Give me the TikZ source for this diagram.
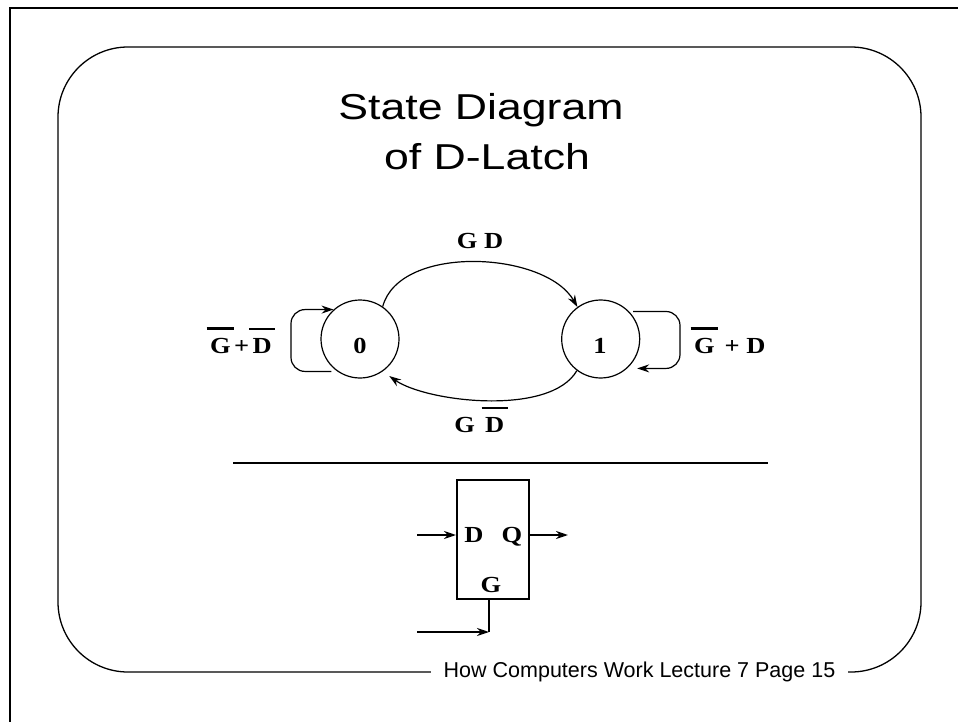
\documentclass[tikz,border=0pt]{standalone}
\usepackage{fontspec}
\usepackage{graphicx}
\setmainfont{Liberation Sans}
\newfontfamily\serifb{Liberation Serif}
\usetikzlibrary{arrows.meta,calc}
\newcommand{\obar}[1]{\vbox{\hrule height 2.4pt\kern 8pt\hbox{\kern3pt#1\kern3pt}}}
\newcommand{\lbl}[1]{\scalebox{1.15}[1]{\fontsize{23}{27}\selectfont\serifb\bfseries #1}}
\begin{document}
\begin{tikzpicture}[x=1pt,y=1pt,
  st/.style={draw,circle,minimum size=78pt,inner sep=0pt,line width=1.2pt},
  thinln/.style={line width=1.2pt},
  thickln/.style={line width=2pt},
  arr/.style={-{Stealth[length=12pt,width=8pt,inset=4pt]}},
  txt/.style={inner sep=0pt,anchor=base}]
\useasboundingbox (0,0) rectangle (958,-722);
% outer frame
\draw[thickln] (10,-722) -- (10,-8) -- (958,-8);
% rounded slide frame
\draw[line width=1.3pt,rounded corners=70pt] (58,-47) rectangle (921,-672);
\node[txt,fill=white,inner xsep=13pt,inner ysep=3pt] (foot) at (639.5,-677)
  {\fontsize{21.5}{25}\selectfont How Computers Work Lecture 7 Page 15};
% title
\node[txt] (t1) at (481,-120) {\scalebox{1.24}[1]{\fontsize{36}{40}\selectfont State Diagram}};
\node[txt] (t2) at (487,-170) {\scalebox{1.24}[1]{\fontsize{36}{40}\selectfont of D-Latch}};
% states
\node[st] (s0) at (360,-339) {};
\node[st] (s1) at (600.7,-339) {};
\node[txt] (n0) at (360,-353) {\lbl{0}};
\node[txt] (n1) at (600,-353) {\lbl{1}};
% transitions
\draw[thinln,arr] (s0.55) to[out=75,in=120,looseness=0.85] (s1.126);
\draw[thinln,arr,shorten >=8pt] (s1.233) to[out=240,in=-35,looseness=0.7] (s0.305);
\coordinate (lp0) at (291,-340);
\coordinate (lp1) at (680,-340);
\draw[thinln,arr,rounded corners=14pt,shorten <=6pt] (s0.235) -| (lp0) |- (s0.132);
\draw[thinln,arr,rounded corners=14pt,shorten <=4pt,shorten >=10pt] (s1.44) -| (lp1) |- (s1.-48);
% labels
\node[txt] (lgd) at (480,-248) {\lbl{G D}};
\node[txt] (lgdb) at (481,-432) {\lbl{G \obar{D}}};
\node[txt] (lleft) at (241,-353) {\lbl{\obar{G}+\obar{D}}};
\node[txt] (lright) at (728,-353) {\lbl{\obar{G} + D}};
% separator
\draw[thickln] (233,-463) -- (768,-463);
% latch
\node[draw,thickln,minimum width=72pt,minimum height=119pt,inner sep=0pt] (latch) at (493,-539.5) {};
\node[txt] (ld) at (474,-542) {\lbl{D}};
\node[txt] (lq) at (512,-542) {\lbl{Q}};
\node[txt] (lg) at (491,-592) {\lbl{G}};
\coordinate (din) at (417,-535);
\coordinate (qout) at (568,-535);
\draw[thickln,arr] (din) -- (din -| latch.west);
\draw[thickln,arr] (qout -| latch.east) -- (qout);
\coordinate (gc) at (489,-632);
\coordinate (gin) at (417,-632);
\draw[thickln,arr] (gin) -- (gc);
\draw[thickln] (gc) -- (gc |- latch.south);
\end{tikzpicture}
\end{document}
